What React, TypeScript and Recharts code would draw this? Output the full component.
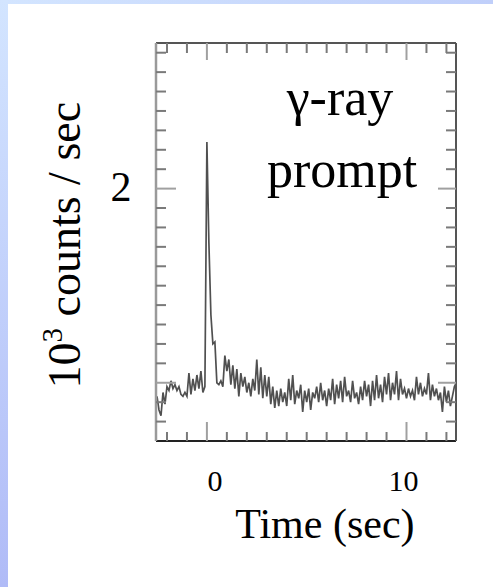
import { Line, LineChart, XAxis, YAxis } from 'recharts';

// binned light curve, 0.1 s bins
const TIME_S = [
  -2.5, -2.4, -2.3, -2.2, -2.1, -2.0, -1.9, -1.8, -1.7, -1.6,
  -1.5, -1.4, -1.3, -1.2, -1.1, -1.0, -0.9, -0.8, -0.7, -0.6,
  -0.5, -0.4, -0.3, -0.2, -0.1, 0.0, 0.1, 0.2, 0.3, 0.4,
  0.5, 0.6, 0.7, 0.8, 0.9, 1.0, 1.1, 1.2, 1.3, 1.4,
  1.5, 1.6, 1.7, 1.8, 1.9, 2.0, 2.1, 2.2, 2.3, 2.4,
  2.5, 2.6, 2.7, 2.8, 2.9, 3.0, 3.1, 3.2, 3.3, 3.4,
  3.5, 3.6, 3.7, 3.8, 3.9, 4.0, 4.1, 4.2, 4.3, 4.4,
  4.5, 4.6, 4.7, 4.8, 4.9, 5.0, 5.1, 5.2, 5.3, 5.4,
  5.5, 5.6, 5.7, 5.8, 5.9, 6.0, 6.1, 6.2, 6.3, 6.4,
  6.5, 6.6, 6.7, 6.8, 6.9, 7.0, 7.1, 7.2, 7.3, 7.4,
  7.5, 7.6, 7.7, 7.8, 7.9, 8.0, 8.1, 8.2, 8.3, 8.4,
  8.5, 8.6, 8.7, 8.8, 8.9, 9.0, 9.1, 9.2, 9.3, 9.4,
  9.5, 9.6, 9.7, 9.8, 9.9, 10.0, 10.1, 10.2, 10.3, 10.4,
  10.5, 10.6, 10.7, 10.8, 10.9, 11.0, 11.1, 11.2, 11.3, 11.4,
  11.5, 11.6, 11.7, 11.8, 11.9, 12.0, 12.1, 12.2, 12.3, 12.4,
  12.5,
];

// 10^3 counts / sec
const RATE_K = [
  0.93, 0.86, 0.83, 0.95, 0.89, 0.98, 0.96, 1.01, 0.97, 0.99,
  0.96, 0.98, 0.94, 0.93, 0.95, 0.93, 1.05, 0.94, 1.02, 0.96,
  1.04, 0.97, 1.06, 0.95, 0.98, 2.24, 1.72, 1.35, 1.2, 1.21,
  1.0, 0.99, 1.01, 0.98, 1.14, 1.06, 1.12, 0.99, 1.09, 0.97,
  1.07, 0.93, 1.05, 0.98, 1.03, 0.95, 1.0, 0.93, 1.02, 0.96,
  1.12, 0.94, 1.08, 0.92, 1.04, 0.93, 1.03, 0.89, 0.98, 0.87,
  0.96, 0.88, 0.97, 0.9, 0.95, 0.88, 1.02, 0.91, 1.04, 0.89,
  0.96, 0.92, 0.99, 0.85, 0.96, 0.9, 0.97, 0.86, 0.95, 0.92,
  0.98, 0.9, 1.0, 0.91, 0.96, 0.88, 0.97, 0.91, 1.02, 0.89,
  0.99, 0.92, 1.01, 0.9, 1.03, 0.93, 0.96, 0.9, 1.01, 0.92,
  0.95, 0.89, 0.98, 0.91, 1.01, 0.93, 0.99, 0.88, 1.01, 0.91,
  1.04, 0.92, 0.99, 0.9, 1.03, 0.94, 1.05, 0.91, 1.0, 0.94,
  1.06, 0.91, 1.02, 0.94, 0.97, 0.92, 0.97, 0.93, 0.96, 0.91,
  1.03, 0.94, 1.0, 0.93, 0.97, 0.94, 1.05, 0.91, 0.99, 0.93,
  0.97, 0.91, 0.95, 0.85, 0.98, 0.9, 0.96, 0.88, 0.93, 0.98,
  1.0,
];

const X_TICKS = [-2, -1, 0, 1, 2, 3, 4, 5, 6, 7, 8, 9, 10, 11, 12];
const X_MAJOR = [0, 10];
const Y_TICKS = [
  0.8, 0.9, 1, 1.1, 1.2, 1.3, 1.4, 1.5, 1.6, 1.7,
  1.8, 1.9, 2, 2.1, 2.2, 2.3, 2.4, 2.5, 2.6, 2.7,
];
const Y_MAJOR = [1, 2];
const Y_LABELED = [2];

const rows = TIME_S.map((t, i) => ({ t, rate: RATE_K[i] }));

const FONT = '"Liberation Serif", "Times New Roman", serif';
const MINOR = '#7a7a7a';
const MAJOR = '#a0a0a0';

function BottomTick({ x, y, payload }: any) {
  const major = X_MAJOR.includes(payload.value);
  const dx = payload.value === 0 ? 8 : -3;
  return (
    <g>
      <line x1={x} x2={x} y1={y} y2={y - (major ? 19 : 9)} stroke={major ? MAJOR : MINOR} strokeWidth={2} />
      {major && (
        <text x={x + dx} y={y + 50} textAnchor="middle" style={{ fontFamily: FONT, fontSize: 30 }} fill="#000">
          {payload.value}
        </text>
      )}
    </g>
  );
}

function TopTick({ x, y, payload }: any) {
  const major = X_MAJOR.includes(payload.value);
  return <line x1={x} x2={x} y1={y} y2={y + (major ? 17 : 10)} stroke={major ? MAJOR : MINOR} strokeWidth={2} />;
}

function LeftTick({ x, y, payload }: any) {
  const major = Y_MAJOR.some((v) => Math.abs(v - payload.value) < 1e-6);
  const labeled = Y_LABELED.some((v) => Math.abs(v - payload.value) < 1e-6);
  return (
    <g>
      <line x1={x} x2={x + (major ? 20 : 10)} y1={y} y2={y} stroke={major ? MAJOR : MINOR} strokeWidth={2} />
      {labeled && (
        <text x={x - 35} y={y + 12} textAnchor="middle" style={{ fontFamily: FONT, fontSize: 42 }} fill="#000">
          {payload.value}
        </text>
      )}
    </g>
  );
}

function RightTick({ x, y, payload }: any) {
  const major = Y_MAJOR.some((v) => Math.abs(v - payload.value) < 1e-6);
  return <line x1={x} x2={x - (major ? 18 : 10)} y1={y} y2={y} stroke={major ? MAJOR : MINOR} strokeWidth={2} />;
}

function TimeLabel({ viewBox }: any) {
  return (
    <text x={viewBox.x + viewBox.width * 0.563} y={viewBox.y + 97} textAnchor="middle" style={{ fontFamily: FONT, fontSize: 42 }} fill="#000">
      Time (sec)
    </text>
  );
}

function RateLabel({ viewBox }: any) {
  const cx = viewBox.x - 26;
  const cy = viewBox.y + viewBox.height * 0.508;
  return (
    <text x={cx} y={cy} transform={`rotate(-90, ${cx}, ${cy})`} textAnchor="middle" style={{ fontFamily: FONT, fontSize: 46 }} fill="#000">
      10
      <tspan dy={-18} style={{ fontSize: 29 }}>3</tspan>
      <tspan dy={18}> counts / sec</tspan>
    </text>
  );
}

function PanelLabel({ viewBox }: any) {
  const top = viewBox.y + viewBox.height;
  return (
    <g style={{ fontFamily: FONT, fontSize: 52 }} fill="#000">
      <text x={viewBox.x + 184} y={top + 72} textAnchor="middle">γ-ray</text>
      <text x={viewBox.x + 186} y={top + 144} textAnchor="middle">prompt</text>
    </g>
  );
}

export default function App() {
  return (
    <div style={{ position: 'fixed', left: 0, top: 0, width: 493, height: 587, background: '#fff', overflow: 'hidden' }}>
      <div style={{ position: 'absolute', left: 0, top: 0, width: 493, height: 4, background: 'linear-gradient(to right, #d3e5ff, #c0cffa)' }} />
      <div style={{ position: 'absolute', left: 0, top: 0, width: 8, height: 587, background: 'linear-gradient(to bottom, #d3e5ff, #b0bbf7)' }} />
      <div style={{ position: 'absolute', left: 0, top: 0 }}>
        <LineChart width={493} height={587} data={rows} margin={{ top: 33, right: 27, bottom: 46, left: 106 }}>
          <XAxis
            xAxisId="bottom"
            dataKey="t"
            type="number"
            domain={[-2.55, 12.48]}
            allowDataOverflow
            ticks={X_TICKS}
            interval={0}
            height={100}
            tickSize={0}
            tickMargin={0}
            tickLine={false}
            axisLine={{ stroke: '#222', strokeWidth: 2 }}
            tick={BottomTick}
            label={TimeLabel}
          />
          <XAxis
            xAxisId="top"
            orientation="top"
            dataKey="t"
            type="number"
            domain={[-2.55, 12.48]}
            allowDataOverflow
            ticks={X_TICKS}
            interval={0}
            height={10}
            tickSize={0}
            tickMargin={0}
            tickLine={false}
            axisLine={{ stroke: '#555', strokeWidth: 2 }}
            tick={TopTick}
            label={PanelLabel}
          />
          <YAxis
            yAxisId="left"
            type="number"
            domain={[0.7, 2.75]}
            allowDataOverflow
            ticks={Y_TICKS}
            interval={0}
            width={50}
            tickSize={0}
            tickMargin={0}
            tickLine={false}
            axisLine={{ stroke: '#9a9a9a', strokeWidth: 2.5 }}
            tick={LeftTick}
            label={RateLabel}
          />
          <YAxis
            yAxisId="right"
            orientation="right"
            type="number"
            domain={[0.7, 2.75]}
            allowDataOverflow
            ticks={Y_TICKS}
            interval={0}
            width={10}
            tickSize={0}
            tickMargin={0}
            tickLine={false}
            axisLine={{ stroke: '#555', strokeWidth: 2 }}
            tick={RightTick}
          />
          <Line
            xAxisId="bottom"
            yAxisId="left"
            type="linear"
            dataKey="rate"
            stroke="#505050"
            strokeWidth={1.7}
            dot={false}
            isAnimationActive={false}
          />
        </LineChart>
      </div>
    </div>
  );
}
